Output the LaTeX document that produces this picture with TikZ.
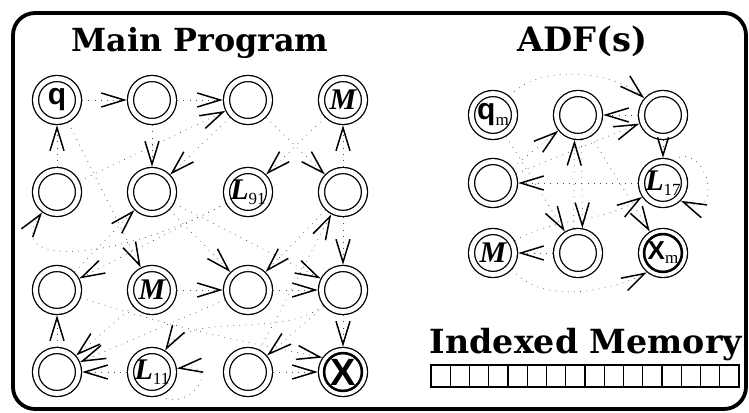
\documentclass[tikz,border=0pt]{standalone}
\usepackage{fontspec}
\usepackage{graphicx}
\usetikzlibrary{arrows.meta}
\newfontfamily\lsans{Liberation Sans}
\newfontfamily\lserif{Liberation Serif}
\newfontfamily\dserif{DejaVu Serif}
\newcommand\qlab{\lsans\bfseries\fontsize{30}{30}\selectfont}
\newcommand\mlab{\lserif\bfseries\itshape\fontsize{30}{30}\selectfont}
\newcommand\slab{\lserif\fontsize{17}{17}\selectfont}
\newcommand\xlab{\lsans\bfseries\fontsize{38}{38}\selectfont}
\newcommand\xmlab{\lsans\bfseries\fontsize{26}{26}\selectfont}
\newcommand\ttl{\dserif\bfseries\fontsize{30}{30}\selectfont}
\begin{document}
\begin{tikzpicture}[x=1pt,y=-1pt,
  st/.style={circle, draw, line width=1.3pt, double, double distance=4.8pt,
    minimum size=43pt, inner sep=0pt, outer sep=3.7pt},
  lbl/.style={inner sep=0pt},
  conn/.style={line width=0.7pt, dash pattern=on 0.7pt off 5.5pt, black!70,
    -{Straight Barb[length=23pt,width=14pt,line width=1.5pt,color=black]}},
  shortconn/.style={conn, -{Straight Barb[length=18pt,width=11pt,line width=1.5pt,color=black]}},
  titl/.style={inner sep=0pt, anchor=base}]
\useasboundingbox (0,0) rectangle (749,412);
\draw[line width=3.8pt, rounded corners=22pt] (13,13) rectangle (746,409);

% titles
\node[titl] (t1) at (200,52) {\resizebox{257pt}{!}{\ttl Main Program}};
\node[titl] (t2) at (582,52) {\resizebox{130pt}{!}{\ttl ADF(s)}};
\node[titl] (t3) at (586,353) {\resizebox{312pt}{!}{\ttl Indexed Memory}};

% memory bar
\draw[line width=1.4pt] (431,365) rectangle (739,387);
\foreach \i in {1,...,15} \draw[line width=1.2pt] ({431+\i*308/16},365) -- ++(0,22);

% main program nodes
\node[st] (q)   at (57,100) {};
\node[st] (m12) at (152,100) {};
\node[st] (m13) at (248,100) {};
\node[st] (mM)  at (343,100) {};
\node[st] (m21) at (57,192) {};
\node[st] (m22) at (152,192) {};
\node[st] (L91) at (248,192) {};
\node[st] (m24) at (343,192) {};
\node[st] (m31) at (57,290) {};
\node[st] (mM3) at (152,290) {};
\node[st] (m33) at (248,290) {};
\node[st] (m34) at (343,290) {};
\node[st] (m41) at (57,372) {};
\node[st] (L11) at (152,372) {};
\node[st] (m43) at (248,372) {};
\node[st] (X)   at (343,372) {};
\draw[line width=2.4pt] (X.center) circle (19pt);

\node[lbl] (qt) at (q) {\qlab q};
\node[lbl] (mMt) at (mM) {\mlab M};
\node[lbl] (L91t) at (L91) {{\mlab L}\raisebox{-5pt}{\slab 91}};
\node[lbl] (mM3t) at (mM3) {\mlab M};
\node[lbl] (L11t) at (L11) {{\mlab L}\raisebox{-5pt}{\slab 11}};
\node[lbl] (Xt) at (X) {\xlab X};

% main program connectors
\draw[conn] (m21) -- (q);
\draw[conn] (q) -- (m12);
\draw[conn] (m12) -- (m13);
\draw[conn] (m21) -- (m13);
\draw[conn] (m24) -- (mM);
\draw[conn] (m12) -- (m22);
\draw[conn] (m13) -- (m22);
\draw[conn] (mM) -- (L91);
\draw[conn] (m13) -- (m24);
\draw[conn] (L91) .. controls (120,260) and (0,270) .. (m21);
\draw[conn] (m31) -- (m22);
\draw[conn] (m22) -- (m34);
\draw[conn] (L91) -- (m31);
\draw[conn] (m41) -- (m31);
\draw[conn] (q) -- (mM3);
\draw[conn] (mM3) -- (m33);
\draw[conn] (m22) -- (m33);
\draw[conn] (m24) -- (m33);
\draw[conn] (m33) -- (m34);
\draw[conn] (m24) -- (m34);
\draw[conn] (mM3) -- (m41);
\draw[conn] (m33) -- (m41);
\draw[conn] (L11) -- (m41);
\draw[conn] (m34) .. controls (280,340) and (190,310) .. (L11);
\draw[conn] (L11.290) .. controls (185,415) and (228,362) .. (L11.8);
\draw[conn] (m34) -- (m43);
\draw[conn] (m31) .. controls (180,330) and (260,345) .. (X.145);
\draw[conn] (m34) -- (X);
\draw[conn] (m43) -- (X);
\draw[conn] (m43) -- (m24);

% ADF nodes
\node[st] (aq) at (493,115) {};
\node[st] (a2) at (578,115) {};
\node[st] (a3) at (663,115) {};
\node[st] (a4) at (493,183) {};
\node[st] (aL) at (663,183) {};
\node[st] (aM) at (493,253) {};
\node[st] (a8) at (578,253) {};
\node[st] (aX) at (663,253) {};
\draw[line width=2.4pt] (aX.center) circle (19pt);

\node[lbl] (aqt) at (aq) {{\qlab q}\raisebox{-6pt}{\slab m}};
\node[lbl] (aLt) at (aL) {{\mlab L}\raisebox{-5pt}{\slab 17}};
\node[lbl] (aMt) at (aM) {\mlab M};
\node[lbl] (aXt) at (aX) {{\xmlab X}\raisebox{-4pt}{\slab m}};

% ADF connectors
\draw[conn] (aq) .. controls (540,62) and (615,72) .. (a3);
\draw[conn] (a3) -- (a2);
\draw[conn] (a4) -- (a2);
\draw[conn] (a8.100) -- (a2.262);
\draw[conn] (a2.278) -- (a8.80);
\draw[conn] (aq) -- (a8);
\draw[conn] (a4) -- (a3.200);
\draw[shortconn] (a3) -- (aL);
\draw[conn] (aL) -- (a4);
\draw[conn] (aL.65) .. controls (705,138) and (728,222) .. (aL.-45);
\draw[conn] (aM) .. controls (560,215) and (600,225) .. (aL);
\draw[conn] (a2) -- (aX);
\draw[conn] (aM.-40) .. controls (540,305) and (610,292) .. (aX.230);
\draw[conn] (a8) -- (aM);
\end{tikzpicture}
\end{document}
